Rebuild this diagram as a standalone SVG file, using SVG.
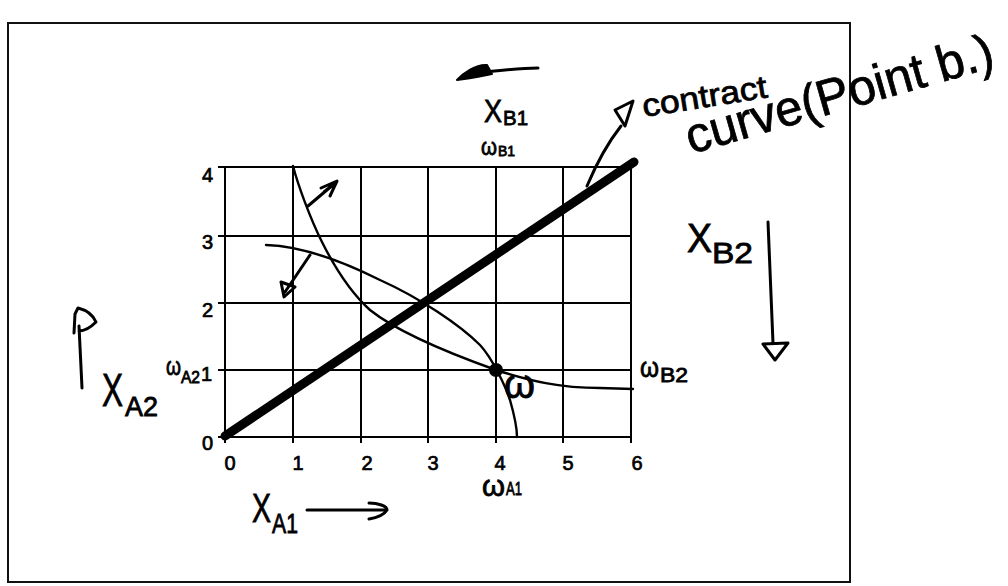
<svg xmlns="http://www.w3.org/2000/svg" width="1008" height="586" viewBox="0 0 1008 586">
<style>
.frame{fill:none;stroke:#111;stroke-width:2}
.grid{fill:none;stroke:#000;stroke-width:2}
.curve{fill:none;stroke:#000;stroke-width:2.4;stroke-linecap:round;stroke-linejoin:round}
.pen{fill:none;stroke:#000;stroke-width:3;stroke-linecap:round;stroke-linejoin:round}
.tick{font-family:"Liberation Sans",Arial,sans-serif;font-size:20px;fill:#000;stroke:#000;stroke-width:0.7}
.hand{font-family:"Liberation Sans","DejaVu Sans",sans-serif;fill:#000;stroke:#000;stroke-width:0.8}
</style>
<rect x="0" y="0" width="1008" height="586" fill="#fff"/>
<rect class="frame" x="8" y="23" width="842" height="559"/>

<g id="chart">
  <g id="grid" class="grid">
    <path d="M225,167 V437 M293,167 V443 M361,167 V443 M428,167 V443 M496,167 V443 M563,167 V443 M631,167 V443 M225,437 V443"/>
    <path d="M218,167 H631 M218,236 H631 M218,303 H631 M218,370 H631 M218,437 H631"/>
  </g>
  <g id="ticklabels" class="tick">
    <text x="213" y="182" text-anchor="end">4</text>
    <text x="213" y="249" text-anchor="end">3</text>
    <text x="213" y="317" text-anchor="end">2</text>
    <text x="212" y="381" text-anchor="end">1</text>
    <text x="213" y="450" text-anchor="end">0</text>
    <text x="230" y="470" text-anchor="middle">0</text>
    <text x="298" y="470" text-anchor="middle">1</text>
    <text x="367" y="470" text-anchor="middle">2</text>
    <text x="433" y="470" text-anchor="middle">3</text>
    <text x="500" y="470" text-anchor="middle">4</text>
    <text x="568" y="470" text-anchor="middle">5</text>
    <text x="637" y="470" text-anchor="middle">6</text>
  </g>
</g>

<g id="connectors">
  <path id="contract-line" d="M225,436 L634,162" fill="none" stroke="#000" stroke-width="9" stroke-linecap="round"/>
  <path id="indiff-a" class="curve" d="M293,166 C298,185 310,218 322,242 C335,268 350,292 370,310 C395,330 440,350 496,370 C530,381 560,388 600,388 L633,389"/>
  <path id="indiff-b" class="curve" d="M266,245 C300,246 340,260 380,280 C420,298 460,325 480,345 C492,358 505,385 510,400 C514,414 517,425 517,437"/>
  <path id="arrow-up-right" class="pen" d="M308,206 L334,184 M321,188 L337,181 L330,196 M324,192 L335,183"/>
  <path id="arrow-down-left" class="pen" d="M310,255 L285,292 M281,282 L295,287 L284,297 Z"/>
  <path id="arrow-contract" class="pen" d="M587,186 C598,160 610,140 621,126 M615,110 L633,101 L625,126 Z"/>
  <path id="arrow-top-line" class="pen" d="M486,72 C505,70 520,68 538,68"/>
  <path id="arrow-top-head" d="M457,80 C463,73 476,64 487,65 L492,74 C482,76 468,79 457,80 Z" fill="#000" stroke="#000" stroke-width="2" stroke-linejoin="round"/>
  <path id="arrow-xb2" class="pen" d="M768,222 L773,343 M763,344 L788,343 L775,360 Z"/>
  <path id="arrow-xa2" class="pen" d="M82,388 L79,326 M74,333 L75,314 L78,308 C86,310 93,315 96,322 C90,328 84,331 79,331"/>
  <path id="arrow-xa1" class="pen" d="M307,510 L384,510 M369,503 C378,503 387,506 387,510 C384,515 375,518 369,519"/>
</g>

<g id="endowment">
  <circle cx="496" cy="370" r="7" fill="#000"/>
  <text class="hand" x="504" y="398" font-size="40" textLength="31" lengthAdjust="spacingAndGlyphs">ω</text>
</g>

<g id="label-xb1">
  <text class="hand"><tspan x="484" y="122" font-size="32" textLength="18" lengthAdjust="spacingAndGlyphs">X</tspan><tspan x="503" y="125" font-size="21" textLength="25" lengthAdjust="spacingAndGlyphs">B1</tspan></text>
</g>
<g id="label-wb1">
  <text class="hand"><tspan x="481" y="155" font-size="24" textLength="16" lengthAdjust="spacingAndGlyphs">ω</tspan><tspan x="498" y="156" font-size="14" textLength="17" lengthAdjust="spacingAndGlyphs">B1</tspan></text>
</g>
<g id="label-contract">
  <text class="hand" x="644" y="117" font-size="32" textLength="126" lengthAdjust="spacingAndGlyphs" transform="rotate(-9 644 117)">contract</text>
  <text class="hand" x="691" y="154" font-size="50" textLength="318" lengthAdjust="spacingAndGlyphs" transform="rotate(-16 691 154)">curve(Point b.)</text>
</g>
<g id="label-xb2">
  <text class="hand"><tspan x="687" y="252" font-size="40" textLength="25" lengthAdjust="spacingAndGlyphs">X</tspan><tspan x="712" y="263" font-size="29" textLength="41" lengthAdjust="spacingAndGlyphs">B2</tspan></text>
</g>
<g id="label-wb2">
  <text class="hand"><tspan x="640" y="377" font-size="28" textLength="19" lengthAdjust="spacingAndGlyphs">ω</tspan><tspan x="660" y="382" font-size="20" textLength="28" lengthAdjust="spacingAndGlyphs">B2</tspan></text>
</g>
<g id="label-wa2">
  <text class="hand"><tspan x="166" y="375" font-size="26" textLength="15" lengthAdjust="spacingAndGlyphs">ω</tspan><tspan x="181" y="383" font-size="17" textLength="19" lengthAdjust="spacingAndGlyphs">A2</tspan></text>
</g>
<g id="label-xa2">
  <text class="hand"><tspan x="102" y="406" font-size="46" textLength="21" lengthAdjust="spacingAndGlyphs">X</tspan><tspan x="125" y="416" font-size="28" textLength="33" lengthAdjust="spacingAndGlyphs">A2</tspan></text>
</g>
<g id="label-xa1">
  <text class="hand"><tspan x="252" y="522" font-size="40" textLength="19" lengthAdjust="spacingAndGlyphs">X</tspan><tspan x="272" y="533" font-size="28" textLength="26" lengthAdjust="spacingAndGlyphs">A1</tspan></text>
</g>
<g id="label-wa1">
  <text class="hand"><tspan x="482" y="496" font-size="30" textLength="23" lengthAdjust="spacingAndGlyphs">ω</tspan><tspan x="506" y="495" font-size="19" textLength="16" lengthAdjust="spacingAndGlyphs">A1</tspan></text>
</g>
</svg>
